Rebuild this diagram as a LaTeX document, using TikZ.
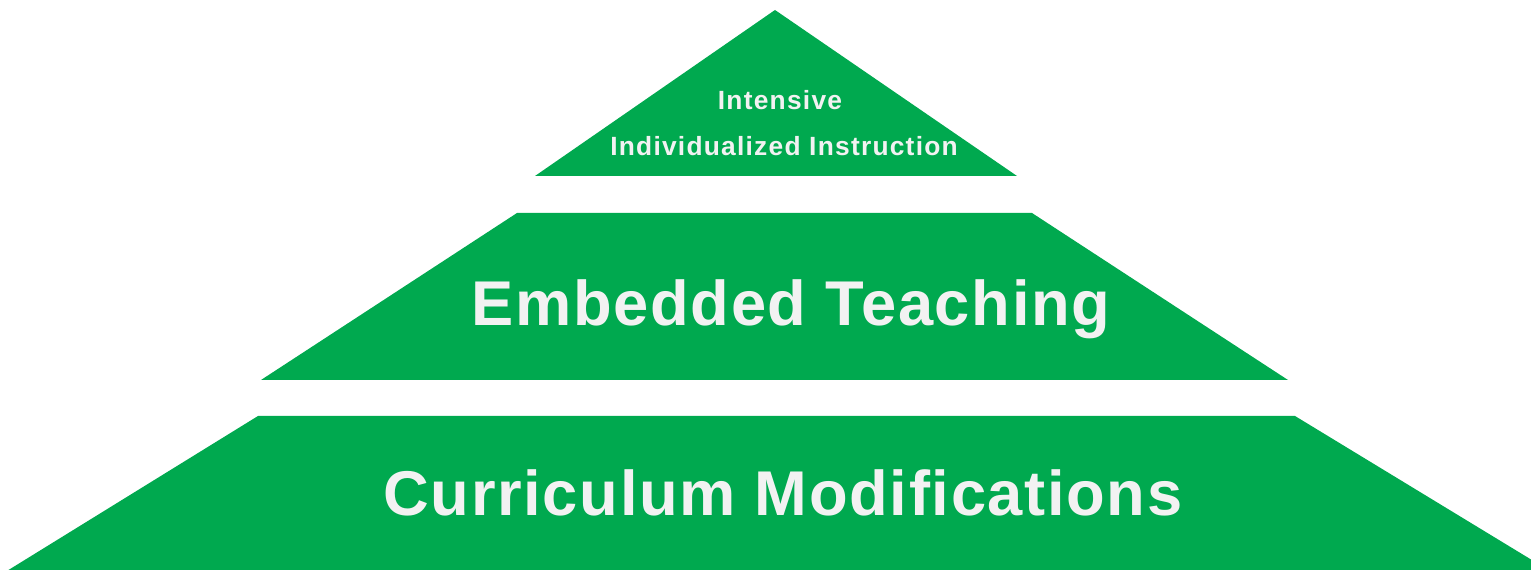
\documentclass[tikz,border=0pt]{standalone}
\usepackage{fontspec}
\setmainfont{Liberation Sans}
\usepackage{tikz}
\usetikzlibrary{positioning}
\definecolor{pyrgreen}{HTML}{00A94F}
\definecolor{pyrtext}{HTML}{F2F2F2}
\newfontfamily\widebig[LetterSpace=2.6]{Liberation Sans}
\newfontfamily\widesmall[LetterSpace=4.7]{Liberation Sans}

\begin{document}
\begin{tikzpicture}[x=0.02cm, y=-0.02cm,
  level/.style={fill=pyrgreen, draw=none},
  bigtext/.style={text=pyrtext, font=\widebig\fontsize{36}{40}\selectfont\bfseries, anchor=base, inner sep=0pt},
  smalltext/.style={text=pyrtext, font=\widesmall\fontsize{15}{18}\selectfont\bfseries, anchor=base, inner sep=0pt}]
\useasboundingbox (0,0) rectangle (1531,570);
\clip (0,0) rectangle (1531,570);
% tiers
\fill[level] (775,10) -- (1017,176) -- (535,176) -- cycle;
\fill[level] (517,213) -- (1032,213) -- (1288,380) -- (261,380) -- cycle;
\fill[level] (258,416) -- (1295,416) -- (1545,568) -- (1545,600) -- (2,600) -- (2,574) -- cycle;
% labels
\node[smalltext] (top1) at (780,110) {Intensive};
\node[smalltext] (top2) at (784,156) {Individualized Instruction};
\node[bigtext] (mid) at (791,326) {Embedded Teaching};
\node[bigtext] (base) at (783,516) {Curriculum Modifications};
\end{tikzpicture}
\end{document}
